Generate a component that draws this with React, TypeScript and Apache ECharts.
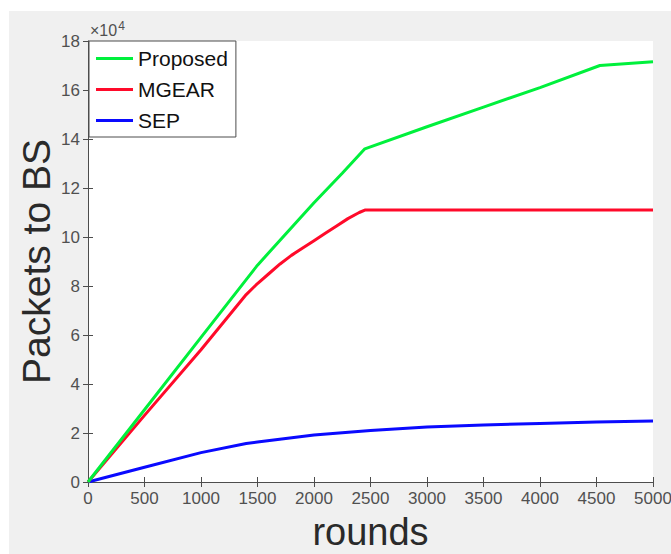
import React, { useEffect, useRef } from "react";
import * as echarts from "echarts";

const xTicks = [0, 500, 1000, 1500, 2000, 2500, 3000, 3500, 4000, 4500, 5000];
const yTicks = [0, 2, 4, 6, 8, 10, 12, 14, 16, 18];

const seriesNames = ["Proposed", "MGEAR", "SEP"];
const seriesColors = ["#00f03c", "#ff0a2a", "#0a0aff"];

// values in units of 10^4 packets
const proposedRounds = [0, 500, 1000, 1500, 2000, 2250, 2450, 3000, 3500, 4000, 4530, 5000];
const proposedPackets = [0, 2.95, 5.9, 8.85, 11.4, 12.6, 13.6, 14.5, 15.3, 16.1, 17.0, 17.15];

const mgearRounds = [0, 500, 1000, 1400, 1500, 1600, 1700, 1800, 1900, 2000, 2100, 2200, 2300, 2400, 2450, 5000];
const mgearPackets = [0, 2.72, 5.4, 7.65, 8.1, 8.5, 8.9, 9.25, 9.55, 9.85, 10.15, 10.45, 10.75, 11.0, 11.1, 11.1];

const sepRounds = [0, 500, 1000, 1400, 1500, 2000, 2500, 3000, 3500, 4000, 4500, 5000];
const sepPackets = [0, 0.6, 1.2, 1.57, 1.63, 1.92, 2.1, 2.24, 2.33, 2.39, 2.45, 2.49];

const FONT = "'Liberation Sans', Arial, sans-serif";

function pairs(xs: number[], ys: number[]) {
  return xs.map((x, i) => [x, ys[i]]);
}

export default function App() {
  const ref = useRef<HTMLDivElement>(null);
  useEffect(() => {
    if (!ref.current) return;
    const chart = echarts.init(ref.current, null, { renderer: "svg" });
    const axisLineColor = "#4d4d4d";
    const xMin = xTicks[0];
    const xMax = xTicks[xTicks.length - 1];
    const yMin = yTicks[0];
    const yMax = yTicks[yTicks.length - 1];
    const common = {
      axisLine: { show: true, lineStyle: { color: axisLineColor, width: 1 } },
      axisTick: { show: true, inside: true, length: 5, lineStyle: { color: axisLineColor } },
      splitLine: { show: false },
    };
    const datasets = [
      pairs(proposedRounds, proposedPackets),
      pairs(mgearRounds, mgearPackets),
      pairs(sepRounds, sepPackets),
    ];
    chart.setOption({
      animation: false,
      backgroundColor: "#f0f0f0",
      grid: {
        left: 79,
        top: 30,
        width: 565,
        height: 441,
        show: true,
        backgroundColor: "#ffffff",
        borderWidth: 0,
        containLabel: false,
        outerBoundsMode: "none",
      },
      xAxis: [
        {
          type: "value",
          position: "bottom",
          min: xMin,
          max: xMax,
          interval: 500,
          ...common,
          axisLabel: {
            color: "#505050",
            fontSize: 17,
            fontFamily: FONT,
            margin: 8,
            formatter: (v: number) => String(v),
          },
          name: "rounds",
          nameLocation: "middle",
          nameGap: 33,
          nameMoveOverlap: false,
          nameTextStyle: { color: "#2a2a2a", fontSize: 38, lineHeight: 34, fontFamily: FONT },
        },
        {
          type: "value",
          position: "top",
          min: xMin,
          max: xMax,
          interval: 500,
          ...common,
          axisLabel: { show: false },
        },
      ],
      yAxis: [
        {
          type: "value",
          position: "left",
          min: yMin,
          max: yMax,
          interval: 2,
          ...common,
          axisLabel: {
            color: "#505050",
            fontSize: 17,
            fontFamily: FONT,
            margin: 8,
            formatter: (v: number) => String(v),
          },
          name: "Packets to BS",
          nameLocation: "middle",
          nameGap: 32,
          nameMoveOverlap: false,
          nameTextStyle: { color: "#2a2a2a", fontSize: 39, fontFamily: FONT },
        },
        {
          type: "value",
          position: "right",
          min: yMin,
          max: yMax,
          interval: 2,
          ...common,
          axisLabel: { show: false },
        },
      ],
      legend: {
        orient: "vertical",
        left: 80,
        top: 30,
        backgroundColor: "#ffffff",
        borderColor: "#4d4d4d",
        borderWidth: 1,
        borderRadius: 0,
        padding: [7, 8, 6, 7],
        itemGap: 10,
        itemWidth: 37,
        itemHeight: 3,
        icon: "rect",
        textStyle: { color: "#111", fontSize: 21, fontFamily: FONT },
        data: seriesNames,
      },
      graphic: [
        {
          type: "text",
          left: 81,
          top: 9,
          style: {
            text: "×10{s|4}",
            fill: "#505050",
            fontSize: 16,
            fontFamily: FONT,
            rich: { s: { fontSize: 12, fontFamily: FONT, fill: "#505050", verticalAlign: "top", padding: [0, 0, 8, 1] } },
          } as any,
        },
      ],
      series: seriesNames.map((name, i) => ({
        name,
        type: "line",
        xAxisIndex: 0,
        yAxisIndex: 0,
        data: datasets[i],
        showSymbol: false,
        symbol: "none",
        smooth: false,
        lineStyle: { color: seriesColors[i], width: 3 },
        itemStyle: { color: seriesColors[i] },
        z: 3 - i + 2,
      })),
    });
    return () => chart.dispose();
  }, []);
  return (
    <div
      ref={ref}
      style={{ position: "absolute", left: 9, top: 11, width: 662, height: 543 }}
    />
  );
}
